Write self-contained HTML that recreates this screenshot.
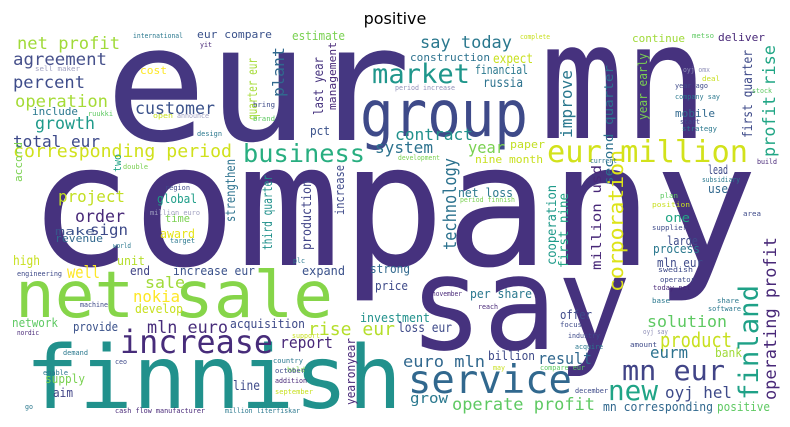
<!DOCTYPE html>
<html><head><meta charset="utf-8"><style>
html,body{margin:0;padding:0;background:#fff;}
svg{display:block;}
.w{font-family:"DejaVu Sans Mono","Liberation Mono",monospace;}
</style></head><body>
<svg width="790" height="427" viewBox="0 0 790 427" xmlns="http://www.w3.org/2000/svg">
<text x="395" y="24" text-anchor="middle" font-family="DejaVu Sans, Liberation Sans, sans-serif" font-size="16" fill="#000">positive</text>
<g class="w">
<!-- big words -->
<text x="105" y="140" font-size="160" textLength="306" lengthAdjust="spacingAndGlyphs" fill="#453781">eur</text>
<text x="540" y="138" font-size="162" textLength="168" lengthAdjust="spacingAndGlyphs" fill="#46327e">mn</text>
<text x="360" y="136" font-size="64" textLength="168" lengthAdjust="spacingAndGlyphs" fill="#3e4a89">group</text>
<text x="28" y="265" font-size="170" textLength="730" lengthAdjust="spacingAndGlyphs" fill="#46327e">company</text>
<text x="409" y="349" font-size="130" textLength="222" lengthAdjust="spacingAndGlyphs" fill="#46327e">say</text>
<text x="15" y="317" font-size="64" textLength="318" lengthAdjust="spacingAndGlyphs" fill="#86d549">net sale</text>
<text x="25" y="408" font-size="87" textLength="377" lengthAdjust="spacingAndGlyphs" fill="#21918c">finnish</text>
<!-- medium words -->
<text x="17" y="49" font-size="17" textLength="103" lengthAdjust="spacingAndGlyphs" fill="#a0da39">net profit</text>
<text x="13" y="65" font-size="17" textLength="94" lengthAdjust="spacingAndGlyphs" fill="#46508b">agreement</text>
<text x="13" y="88" font-size="17" textLength="72" lengthAdjust="spacingAndGlyphs" fill="#3e4c8a">percent</text>
<text x="15" y="107" font-size="17" textLength="93" lengthAdjust="spacingAndGlyphs" fill="#a5db36">operation</text>
<text x="32" y="115" font-size="11" textLength="46" lengthAdjust="spacingAndGlyphs" fill="#2a788e">include</text>
<text x="35" y="129" font-size="17" textLength="60" lengthAdjust="spacingAndGlyphs" fill="#1f9a8a">growth</text>
<text x="13" y="147" font-size="16" textLength="87" lengthAdjust="spacingAndGlyphs" fill="#3e4a89">total eur</text>
<text x="13" y="157" font-size="18" textLength="219" lengthAdjust="spacingAndGlyphs" fill="#d0e11c">corresponding period</text>
<text x="58" y="202" font-size="16" textLength="67" lengthAdjust="spacingAndGlyphs" fill="#c2df23">project</text>
<text x="75" y="222" font-size="17" textLength="50" lengthAdjust="spacingAndGlyphs" fill="#482878">order</text>
<text x="135" y="114" font-size="17" textLength="80" lengthAdjust="spacingAndGlyphs" fill="#3b528b">customer</text>
<text x="140" y="74" font-size="11" textLength="27" lengthAdjust="spacingAndGlyphs" fill="#fde725">cost</text>
<text x="197" y="38" font-size="11" textLength="75" lengthAdjust="spacingAndGlyphs" fill="#3b528b">eur compare</text>
<text x="292" y="40" font-size="12" textLength="53" lengthAdjust="spacingAndGlyphs" fill="#7ad151">estimate</text>
<text x="310" y="135" font-size="12" textLength="20" lengthAdjust="spacingAndGlyphs" fill="#3b528b">pct</text>
<text x="243" y="162" font-size="25" textLength="122" lengthAdjust="spacingAndGlyphs" fill="#28ae80">business</text>
<text x="157" y="203" font-size="12" textLength="40" lengthAdjust="spacingAndGlyphs" fill="#1f9e89">global</text>
<text x="165" y="222" font-size="11" textLength="25" lengthAdjust="spacingAndGlyphs" fill="#7ad151">time</text>
<text x="420" y="48" font-size="17" textLength="92" lengthAdjust="spacingAndGlyphs" fill="#2a788e">say today</text>
<text x="410" y="61" font-size="11" textLength="80" lengthAdjust="spacingAndGlyphs" fill="#2c728e">construction</text>
<text x="372" y="83" font-size="27" textLength="98" lengthAdjust="spacingAndGlyphs" fill="#1f968b">market</text>
<text x="493" y="63" font-size="13" textLength="40" lengthAdjust="spacingAndGlyphs" fill="#c8e020">expect</text>
<text x="475" y="74" font-size="12" textLength="53" lengthAdjust="spacingAndGlyphs" fill="#2a788e">financial</text>
<text x="483" y="87" font-size="13" textLength="40" lengthAdjust="spacingAndGlyphs" fill="#2c728e">russia</text>
<text x="395" y="140" font-size="16" textLength="78" lengthAdjust="spacingAndGlyphs" fill="#21918c">contract</text>
<text x="375" y="153" font-size="16" textLength="58" lengthAdjust="spacingAndGlyphs" fill="#2c728e">system</text>
<text x="468" y="153" font-size="16" textLength="37" lengthAdjust="spacingAndGlyphs" fill="#7ad151">year</text>
<text x="510" y="148" font-size="11" textLength="35" lengthAdjust="spacingAndGlyphs" fill="#c2df23">paper</text>
<text x="475" y="163" font-size="11" textLength="68" lengthAdjust="spacingAndGlyphs" fill="#c8e020">nine month</text>
<text x="547" y="162" font-size="30" textLength="201" lengthAdjust="spacingAndGlyphs" fill="#d2e21b">eur million</text>
<text x="632" y="42" font-size="11" textLength="53" lengthAdjust="spacingAndGlyphs" fill="#a0da39">continue</text>
<text x="718" y="41" font-size="11" textLength="47" lengthAdjust="spacingAndGlyphs" fill="#482878">deliver</text>
<text x="675" y="117" font-size="11" textLength="40" lengthAdjust="spacingAndGlyphs" fill="#31688e">mobile</text>
<text x="458" y="197" font-size="12" textLength="55" lengthAdjust="spacingAndGlyphs" fill="#2a788e">net loss</text>
<text x="708" y="174" font-size="12" textLength="20" lengthAdjust="spacingAndGlyphs" fill="#3e4a89">lead</text>
<text x="708" y="193" font-size="12" textLength="20" lengthAdjust="spacingAndGlyphs" fill="#31688e">use</text>
<text x="665" y="222" font-size="12" textLength="25" lengthAdjust="spacingAndGlyphs" fill="#21a585">one</text>
<text x="667" y="245" font-size="12" textLength="31" lengthAdjust="spacingAndGlyphs" fill="#3e4a89">large</text>
<text x="653" y="253" font-size="12" textLength="47" lengthAdjust="spacingAndGlyphs" fill="#2a788e">process</text>
<text x="657" y="267" font-size="12" textLength="46" lengthAdjust="spacingAndGlyphs" fill="#3e4a89">mln eur</text>
<text x="470" y="298" font-size="12" textLength="62" lengthAdjust="spacingAndGlyphs" fill="#2a788e">per share</text>
<text x="560" y="319" font-size="12" textLength="32" lengthAdjust="spacingAndGlyphs" fill="#3e4a89">offer</text>
<text x="647" y="327" font-size="16" textLength="80" lengthAdjust="spacingAndGlyphs" fill="#5ec962">solution</text>
<text x="660" y="347" font-size="20" textLength="72" lengthAdjust="spacingAndGlyphs" fill="#c8e020">product</text>
<text x="650" y="358" font-size="16" textLength="38" lengthAdjust="spacingAndGlyphs" fill="#2c728e">eurm</text>
<text x="715" y="357" font-size="12" textLength="27" lengthAdjust="spacingAndGlyphs" fill="#a0da39">bank</text>
<text x="538" y="364" font-size="16" textLength="54" lengthAdjust="spacingAndGlyphs" fill="#31688e">result</text>
<text x="488" y="360" font-size="12" textLength="47" lengthAdjust="spacingAndGlyphs" fill="#3e4a89">billion</text>
<text x="403" y="367" font-size="16" textLength="82" lengthAdjust="spacingAndGlyphs" fill="#31688e">euro mln</text>
<text x="408" y="393" font-size="39" textLength="164" lengthAdjust="spacingAndGlyphs" fill="#31688e">service</text>
<text x="622" y="380" font-size="28" textLength="103" lengthAdjust="spacingAndGlyphs" fill="#414487">mn eur</text>
<text x="608" y="400" font-size="28" textLength="50" lengthAdjust="spacingAndGlyphs" fill="#20a486">new</text>
<text x="665" y="398" font-size="16" textLength="67" lengthAdjust="spacingAndGlyphs" fill="#3e4a89">oyj hel</text>
<text x="410" y="403" font-size="14" textLength="38" lengthAdjust="spacingAndGlyphs" fill="#2a788e">grow</text>
<text x="452" y="410" font-size="17" textLength="143" lengthAdjust="spacingAndGlyphs" fill="#5ec962">operate profit</text>
<text x="603" y="411" font-size="12" textLength="110" lengthAdjust="spacingAndGlyphs" fill="#31688e">mn corresponding</text>
<text x="717" y="411" font-size="12" textLength="53" lengthAdjust="spacingAndGlyphs" fill="#5ec962">positive</text>
<text x="360" y="322" font-size="12" textLength="70" lengthAdjust="spacingAndGlyphs" fill="#21918c">investment</text>
<text x="398" y="332" font-size="13" textLength="54" lengthAdjust="spacingAndGlyphs" fill="#3e4a89">loss eur</text>
<text x="55" y="235" font-size="11" textLength="40" lengthAdjust="spacingAndGlyphs" fill="#3b528b">make</text>
<text x="90" y="235" font-size="15" textLength="38" lengthAdjust="spacingAndGlyphs" fill="#3e4a89">sign</text>
<text x="55" y="242" font-size="11" textLength="48" lengthAdjust="spacingAndGlyphs" fill="#31688e">revenue</text>
<text x="160" y="238" font-size="12" textLength="35" lengthAdjust="spacingAndGlyphs" fill="#e5e419">award</text>
<text x="13" y="265" font-size="13" textLength="27" lengthAdjust="spacingAndGlyphs" fill="#c8e020">high</text>
<text x="67" y="278" font-size="17" textLength="33" lengthAdjust="spacingAndGlyphs" fill="#fde725">well</text>
<text x="117" y="265" font-size="12" textLength="28" lengthAdjust="spacingAndGlyphs" fill="#b5de2b">unit</text>
<text x="130" y="275" font-size="12" textLength="20" lengthAdjust="spacingAndGlyphs" fill="#414487">end</text>
<text x="173" y="275" font-size="12" textLength="82" lengthAdjust="spacingAndGlyphs" fill="#3b528b">increase eur</text>
<text x="145" y="288" font-size="16" textLength="40" lengthAdjust="spacingAndGlyphs" fill="#a0da39">sale</text>
<text x="133" y="302" font-size="16" textLength="47" lengthAdjust="spacingAndGlyphs" fill="#fde725">nokia</text>
<text x="135" y="313" font-size="12" textLength="48" lengthAdjust="spacingAndGlyphs" fill="#c8e020">develop</text>
<text x="12" y="327" font-size="12" textLength="46" lengthAdjust="spacingAndGlyphs" fill="#5ec962">network</text>
<text x="73" y="331" font-size="12" textLength="45" lengthAdjust="spacingAndGlyphs" fill="#3b528b">provide</text>
<text x="147" y="333" font-size="17" textLength="81" lengthAdjust="spacingAndGlyphs" fill="#472c7a">mln euro</text>
<text x="230" y="328" font-size="12" textLength="75" lengthAdjust="spacingAndGlyphs" fill="#3e4a89">acquisition</text>
<text x="308" y="335" font-size="18" textLength="87" lengthAdjust="spacingAndGlyphs" fill="#b5de2b">rise eur</text>
<text x="120" y="353" font-size="32" textLength="153" lengthAdjust="spacingAndGlyphs" fill="#472c7a">increase</text>
<text x="280" y="348" font-size="16" textLength="53" lengthAdjust="spacingAndGlyphs" fill="#482878">report</text>
<text x="45" y="383" font-size="12" textLength="40" lengthAdjust="spacingAndGlyphs" fill="#7ad151">supply</text>
<text x="53" y="397" font-size="12" textLength="20" lengthAdjust="spacingAndGlyphs" fill="#414487">aim</text>
<text x="233" y="390" font-size="13" textLength="27" lengthAdjust="spacingAndGlyphs" fill="#3e4a89">line</text>
<text x="302" y="275" font-size="12" textLength="43" lengthAdjust="spacingAndGlyphs" fill="#3b528b">expand</text>
<text x="370" y="273" font-size="12" textLength="40" lengthAdjust="spacingAndGlyphs" fill="#31688e">strong</text>
<text x="375" y="290" font-size="12" textLength="33" lengthAdjust="spacingAndGlyphs" fill="#3e4a89">price</text>
<!-- vertical words -->
<text transform="rotate(-90 22 182)" x="22" y="182" font-size="11" textLength="40" lengthAdjust="spacingAndGlyphs" fill="#7ad151">accord</text>
<text transform="rotate(-90 121 172)" x="121" y="172" font-size="11" textLength="18" lengthAdjust="spacingAndGlyphs" fill="#20a386">two</text>
<text transform="rotate(-90 284 97)" x="284" y="97" font-size="16" textLength="50" lengthAdjust="spacingAndGlyphs" fill="#31688e">plant</text>
<text transform="rotate(-90 257 120)" x="257" y="120" font-size="13" textLength="62" lengthAdjust="spacingAndGlyphs" fill="#a5db36">quarter eur</text>
<text transform="rotate(-90 323 115)" x="323" y="115" font-size="13" textLength="58" lengthAdjust="spacingAndGlyphs" fill="#46337f">last year</text>
<text transform="rotate(-90 336 110)" x="336" y="110" font-size="11" textLength="68" lengthAdjust="spacingAndGlyphs" fill="#482878">management</text>
<text transform="rotate(-90 235 222)" x="235" y="222" font-size="13" textLength="63" lengthAdjust="spacingAndGlyphs" fill="#2c728e">strengthen</text>
<text transform="rotate(-90 272 250)" x="272" y="250" font-size="13" textLength="75" lengthAdjust="spacingAndGlyphs" fill="#21918c">third quarter</text>
<text transform="rotate(-90 311 250)" x="311" y="250" font-size="13" textLength="70" lengthAdjust="spacingAndGlyphs" fill="#414487">production</text>
<text transform="rotate(-90 344 215)" x="344" y="215" font-size="12" textLength="50" lengthAdjust="spacingAndGlyphs" fill="#3e4a89">increase</text>
<text transform="rotate(-90 355 405)" x="355" y="405" font-size="12" textLength="67" lengthAdjust="spacingAndGlyphs" fill="#482878">yearonyear</text>
<text transform="rotate(-90 572 138)" x="572" y="138" font-size="16" textLength="68" lengthAdjust="spacingAndGlyphs" fill="#2a788e">improve</text>
<text transform="rotate(-90 613 185)" x="613" y="185" font-size="12" textLength="120" lengthAdjust="spacingAndGlyphs" fill="#2c728e">second quarter</text>
<text transform="rotate(-90 647 120)" x="647" y="120" font-size="12" textLength="67" lengthAdjust="spacingAndGlyphs" fill="#7ad151">year early</text>
<text transform="rotate(-90 752 138)" x="752" y="138" font-size="13" textLength="88" lengthAdjust="spacingAndGlyphs" fill="#3e4a89">first quarter</text>
<text transform="rotate(-90 775 157)" x="775" y="157" font-size="17" textLength="112" lengthAdjust="spacingAndGlyphs" fill="#21a685">profit rise</text>
<text transform="rotate(-90 456 250)" x="456" y="250" font-size="18" textLength="92" lengthAdjust="spacingAndGlyphs" fill="#2c728e">technology</text>
<text transform="rotate(-90 556 265)" x="556" y="265" font-size="13" textLength="80" lengthAdjust="spacingAndGlyphs" fill="#1f9a8a">cooperation</text>
<text transform="rotate(-90 568 268)" x="568" y="268" font-size="13" textLength="75" lengthAdjust="spacingAndGlyphs" fill="#21a685">first nine</text>
<text transform="rotate(-90 601 270)" x="601" y="270" font-size="13" textLength="105" lengthAdjust="spacingAndGlyphs" fill="#482878">million usd</text>
<text transform="rotate(-90 623 292)" x="623" y="292" font-size="20" textLength="142" lengthAdjust="spacingAndGlyphs" fill="#dde318">corporation</text>
<text transform="rotate(-90 758 400)" x="758" y="400" font-size="27" textLength="115" lengthAdjust="spacingAndGlyphs" fill="#1fa187">finland</text>
<text transform="rotate(-90 776 400)" x="776" y="400" font-size="17" textLength="163" lengthAdjust="spacingAndGlyphs" fill="#482878">operating profit</text>
<!-- tiny words -->
<text x="133" y="38" font-size="7" textLength="50" lengthAdjust="spacingAndGlyphs" fill="#2a788e">international</text>
<text x="200" y="47" font-size="7" textLength="12" lengthAdjust="spacingAndGlyphs" fill="#482878">yit</text>
<text x="35" y="71" font-size="7" textLength="45" lengthAdjust="spacingAndGlyphs" fill="#a0a0c0">sell maker</text>
<text x="88" y="116" font-size="7" textLength="25" lengthAdjust="spacingAndGlyphs" fill="#5ec962">ruukki</text>
<text x="153" y="118" font-size="7" textLength="20" lengthAdjust="spacingAndGlyphs" fill="#c8e020">open</text>
<text x="177" y="118" font-size="7" textLength="32" lengthAdjust="spacingAndGlyphs" fill="#a0a0c0">announce</text>
<text x="253" y="107" font-size="7" textLength="22" lengthAdjust="spacingAndGlyphs" fill="#3e4a89">bring</text>
<text x="253" y="121" font-size="7" textLength="22" lengthAdjust="spacingAndGlyphs" fill="#5ec962">brand</text>
<text x="197" y="136" font-size="7" textLength="25" lengthAdjust="spacingAndGlyphs" fill="#2a788e">design</text>
<text x="123" y="169" font-size="7" textLength="25" lengthAdjust="spacingAndGlyphs" fill="#7ad151">double</text>
<text x="165" y="190" font-size="7" textLength="25" lengthAdjust="spacingAndGlyphs" fill="#3e4a89">region</text>
<text x="150" y="215" font-size="7" textLength="50" lengthAdjust="spacingAndGlyphs" fill="#a0a0c0">million euro</text>
<text x="398" y="160" font-size="7" textLength="42" lengthAdjust="spacingAndGlyphs" fill="#7ad151">development</text>
<text x="395" y="90" font-size="7" textLength="60" lengthAdjust="spacingAndGlyphs" fill="#9090b8">period increase</text>
<text x="460" y="202" font-size="7" textLength="55" lengthAdjust="spacingAndGlyphs" fill="#7ad151">period finnish</text>
<text x="520" y="39" font-size="7" textLength="30" lengthAdjust="spacingAndGlyphs" fill="#c8e020">complete</text>
<text x="692" y="38" font-size="7" textLength="22" lengthAdjust="spacingAndGlyphs" fill="#5ec962">metso</text>
<text x="683" y="72" font-size="7" textLength="27" lengthAdjust="spacingAndGlyphs" fill="#9090b8">oyj omx</text>
<text x="702" y="81" font-size="7" textLength="18" lengthAdjust="spacingAndGlyphs" fill="#c8e020">deal</text>
<text x="675" y="88" font-size="7" textLength="33" lengthAdjust="spacingAndGlyphs" fill="#3e4a89">year ago</text>
<text x="675" y="99" font-size="7" textLength="45" lengthAdjust="spacingAndGlyphs" fill="#2a788e">company say</text>
<text x="752" y="93" font-size="7" textLength="20" lengthAdjust="spacingAndGlyphs" fill="#5ec962">stock</text>
<text x="680" y="124" font-size="7" textLength="20" lengthAdjust="spacingAndGlyphs" fill="#3e4a89">start</text>
<text x="682" y="131" font-size="7" textLength="35" lengthAdjust="spacingAndGlyphs" fill="#2a788e">strategy</text>
<text x="590" y="163" font-size="7" textLength="27" lengthAdjust="spacingAndGlyphs" fill="#2c728e">current</text>
<text x="757" y="164" font-size="7" textLength="20" lengthAdjust="spacingAndGlyphs" fill="#482878">build</text>
<text x="702" y="182" font-size="7" textLength="38" lengthAdjust="spacingAndGlyphs" fill="#2a788e">subsidiary</text>
<text x="660" y="198" font-size="7" textLength="18" lengthAdjust="spacingAndGlyphs" fill="#5ec962">plan</text>
<text x="652" y="207" font-size="7" textLength="38" lengthAdjust="spacingAndGlyphs" fill="#c8e020">position</text>
<text x="743" y="216" font-size="7" textLength="18" lengthAdjust="spacingAndGlyphs" fill="#3e4a89">area</text>
<text x="652" y="230" font-size="7" textLength="35" lengthAdjust="spacingAndGlyphs" fill="#3e4a89">supplier</text>
<text x="658" y="272" font-size="7" textLength="35" lengthAdjust="spacingAndGlyphs" fill="#3e4a89">swedish</text>
<text x="660" y="282" font-size="7" textLength="35" lengthAdjust="spacingAndGlyphs" fill="#3e4a89">operator</text>
<text x="653" y="290" font-size="7" textLength="38" lengthAdjust="spacingAndGlyphs" fill="#482878">today net</text>
<text x="652" y="303" font-size="7" textLength="18" lengthAdjust="spacingAndGlyphs" fill="#2a788e">base</text>
<text x="717" y="303" font-size="7" textLength="22" lengthAdjust="spacingAndGlyphs" fill="#2a788e">share</text>
<text x="708" y="311" font-size="7" textLength="33" lengthAdjust="spacingAndGlyphs" fill="#2a788e">software</text>
<text x="643" y="334" font-size="7" textLength="25" lengthAdjust="spacingAndGlyphs" fill="#9090b8">oyj say</text>
<text x="630" y="347" font-size="7" textLength="27" lengthAdjust="spacingAndGlyphs" fill="#3e4a89">amount</text>
<text x="432" y="296" font-size="7" textLength="30" lengthAdjust="spacingAndGlyphs" fill="#482878">november</text>
<text x="478" y="309" font-size="7" textLength="20" lengthAdjust="spacingAndGlyphs" fill="#482878">reach</text>
<text x="560" y="327" font-size="7" textLength="22" lengthAdjust="spacingAndGlyphs" fill="#3e4a89">focus</text>
<text x="568" y="338" font-size="7" textLength="32" lengthAdjust="spacingAndGlyphs" fill="#3e4a89">industry</text>
<text x="575" y="349" font-size="7" textLength="28" lengthAdjust="spacingAndGlyphs" fill="#2a788e">acquire</text>
<text x="493" y="370" font-size="7" textLength="12" lengthAdjust="spacingAndGlyphs" fill="#c8e020">may</text>
<text x="540" y="370" font-size="7" textLength="45" lengthAdjust="spacingAndGlyphs" fill="#5ec962">compare eur</text>
<text x="575" y="393" font-size="7" textLength="33" lengthAdjust="spacingAndGlyphs" fill="#3e4a89">december</text>
<text x="113" y="248" font-size="7" textLength="18" lengthAdjust="spacingAndGlyphs" fill="#2a788e">world</text>
<text x="170" y="243" font-size="7" textLength="25" lengthAdjust="spacingAndGlyphs" fill="#2a788e">target</text>
<text x="17" y="276" font-size="7" textLength="45" lengthAdjust="spacingAndGlyphs" fill="#3e4a89">engineering</text>
<text x="80" y="307" font-size="7" textLength="28" lengthAdjust="spacingAndGlyphs" fill="#3e4a89">machine</text>
<text x="17" y="335" font-size="7" textLength="22" lengthAdjust="spacingAndGlyphs" fill="#482878">nordic</text>
<text x="63" y="355" font-size="7" textLength="25" lengthAdjust="spacingAndGlyphs" fill="#2a788e">demand</text>
<text x="115" y="364" font-size="7" textLength="12" lengthAdjust="spacingAndGlyphs" fill="#3e4a89">ceo</text>
<text x="43" y="375" font-size="7" textLength="25" lengthAdjust="spacingAndGlyphs" fill="#2a788e">enable</text>
<text x="25" y="409" font-size="7" textLength="8" lengthAdjust="spacingAndGlyphs" fill="#2a788e">go</text>
<text x="292" y="338" font-size="7" textLength="28" lengthAdjust="spacingAndGlyphs" fill="#c8e020">support</text>
<text x="293" y="263" font-size="7" textLength="12" lengthAdjust="spacingAndGlyphs" fill="#2a788e">plc</text>
<text x="273" y="363" font-size="7" textLength="30" lengthAdjust="spacingAndGlyphs" fill="#2a788e">country</text>
<text x="287" y="372" font-size="7" textLength="18" lengthAdjust="spacingAndGlyphs" fill="#7ad151">hold</text>
<text x="275" y="373" font-size="7" textLength="30" lengthAdjust="spacingAndGlyphs" fill="#3e4a89">october</text>
<text x="275" y="383" font-size="7" textLength="32" lengthAdjust="spacingAndGlyphs" fill="#482878">addition</text>
<text x="275" y="394" font-size="7" textLength="38" lengthAdjust="spacingAndGlyphs" fill="#c8e020">september</text>
<text x="115" y="413" font-size="7" textLength="90" lengthAdjust="spacingAndGlyphs" fill="#482878">cash flow manufacturer</text>
<text x="225" y="413" font-size="7" textLength="75" lengthAdjust="spacingAndGlyphs" fill="#2a788e">million literfiskar</text>
</g>
</svg>
</body></html>
